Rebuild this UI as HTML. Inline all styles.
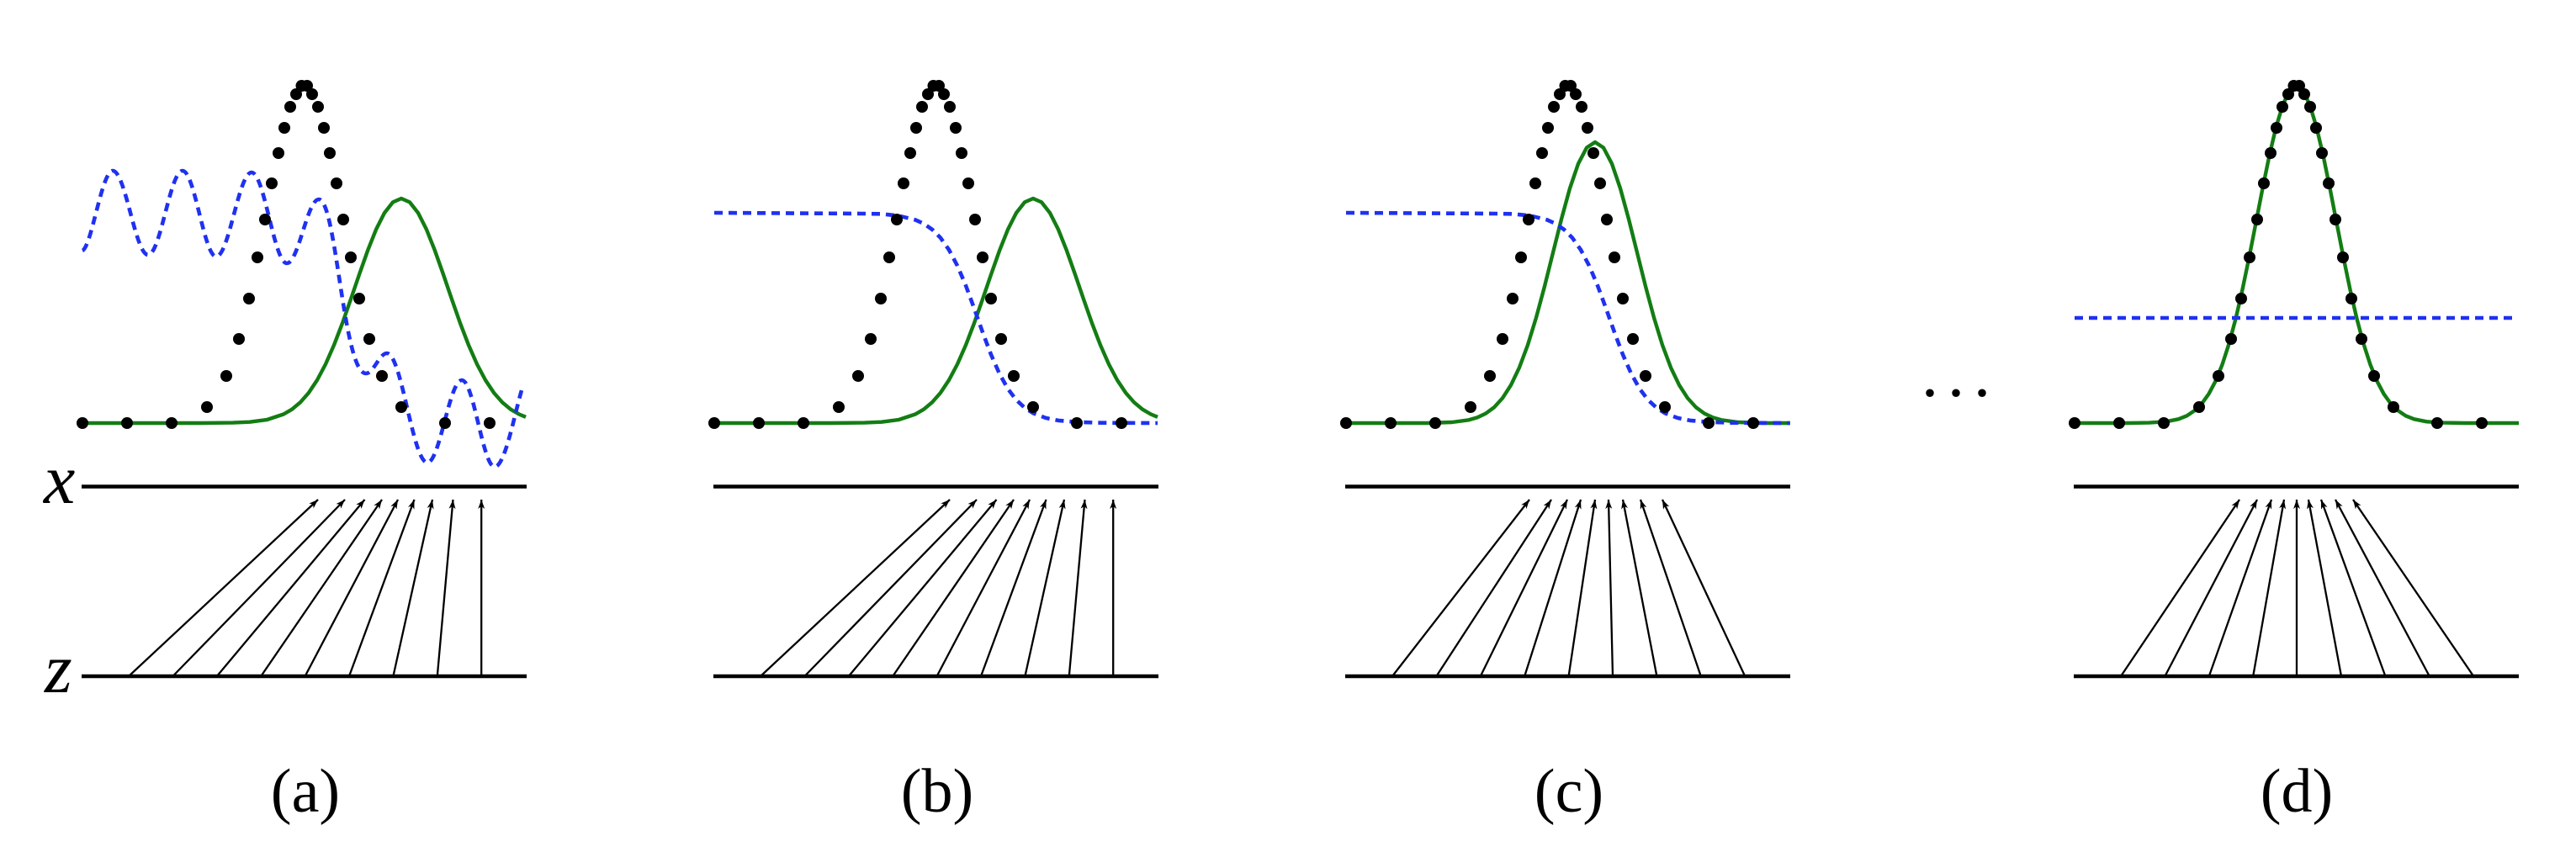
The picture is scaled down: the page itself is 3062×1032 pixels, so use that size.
<!DOCTYPE html>
<html>
<head>
<meta charset="utf-8">
<style>
  html, body { margin: 0; padding: 0; background: #ffffff; }
  svg { display: block; }
  text { font-family: "Liberation Serif", "DejaVu Serif", serif; fill: #000; }
</style>
</head>
<body>
<svg width="3062" height="1032" viewBox="0 0 3062 1032" xmlns="http://www.w3.org/2000/svg">
  <rect x="0" y="0" width="3062" height="1032" fill="#ffffff"/>
  <defs>
    <marker id="ah" markerUnits="userSpaceOnUse" viewBox="0 0 11 8" refX="11" refY="4" markerWidth="11" markerHeight="8" orient="auto">
      <path d="M0,0 L11,4 L0,8 L3,4 z" fill="#000"/>
    </marker>

    <g id="axes">
      <line x1="0" y1="578.5" x2="529" y2="578.5" stroke="#000" stroke-width="4.6"/>
      <line x1="0" y1="804" x2="529" y2="804" stroke="#000" stroke-width="4.6"/>
    </g>

    <g id="dots" fill="#000">
      <circle cx="1" cy="503" r="7"/>
      <circle cx="54" cy="503" r="7"/>
      <circle cx="107" cy="503" r="7"/>
      <circle cx="149" cy="484" r="7"/>
      <circle cx="172" cy="447" r="7"/>
      <circle cx="187" cy="403" r="7"/>
      <circle cx="199" cy="355" r="7"/>
      <circle cx="209" cy="306" r="7"/>
      <circle cx="218" cy="261" r="7"/>
      <circle cx="226" cy="218" r="7"/>
      <circle cx="234" cy="182" r="7"/>
      <circle cx="241" cy="152" r="7"/>
      <circle cx="248" cy="127" r="7"/>
      <circle cx="255" cy="112" r="7"/>
      <circle cx="261.5" cy="102" r="7"/>
      <circle cx="268" cy="102" r="7"/>
      <circle cx="274" cy="112" r="7"/>
      <circle cx="281" cy="127" r="7"/>
      <circle cx="288" cy="152" r="7"/>
      <circle cx="295" cy="182" r="7"/>
      <circle cx="303" cy="218" r="7"/>
      <circle cx="311" cy="261" r="7"/>
      <circle cx="320" cy="306" r="7"/>
      <circle cx="330" cy="355" r="7"/>
      <circle cx="342" cy="403" r="7"/>
      <circle cx="357" cy="447" r="7"/>
      <circle cx="380" cy="484" r="7"/>
      <circle cx="432" cy="503" r="7"/>
      <circle cx="485" cy="503" r="7"/>
    </g>

    <polyline id="gAB" fill="none" stroke="#137d13" stroke-width="4.4" stroke-linejoin="round"
      points="1,503 140,503 180,502.6 200,501.7 220,499.1 240,492.5 250,486.7 260,478.3 270,466.9 280,451.9 290,433 300,410.3 310,384.2 320,355.7 330,326.4 340,298.1 350,272.9 360,253.1 370,240.4 380,236 390,240.4 400,253.1 410,272.9 420,298.1 430,326.4 440,355.7 450,384.2 460,410.3 470,433 480,451.9 490,466.9 500,478.3 510,486.7 520,492.5 528,495.8"/>

    <polyline id="gC" fill="none" stroke="#137d13" stroke-width="4.4" stroke-linejoin="round"
      points="1,503 97,503 127,502 147,499.3 157,496.4 167,491.6 177,484.3 187,473.3 197,457.8 207,436.9 217,410.1 227,377.6 237,340.4 247,300.4 257,260.5 267,224 277,194.7 287,175.6 297,169 307,175.6 317,194.7 327,224 337,260.5 347,300.4 357,340.4 367,377.6 377,410.1 387,436.9 397,457.8 407,473.3 417,484.3 427,491.6 437,496.4 447,499.3 467,502 497,503 529,503"/>

    <polyline id="gD" fill="none" stroke="#137d13" stroke-width="4.4" stroke-linejoin="round"
      points="1,503 64.5,503 89.5,502.6 109.5,501.3 124.5,498.3 134.5,494.3 144.5,487.6 152.5,479.5 160.5,468.3 168.5,453.2 176.5,433.5 184.5,408.8 192.5,379 200.5,344.3 208.5,305.8 216.5,265 224.5,223.8 232.5,185 240.5,151 248.5,124.6 256.5,107.8 264.5,102 272.5,107.8 280.5,124.6 288.5,151 296.5,185 304.5,223.8 312.5,265 320.5,305.8 328.5,344.3 336.5,379 344.5,408.8 352.5,433.5 360.5,453.2 368.5,468.3 376.5,479.5 384.5,487.6 394.5,494.3 404.5,498.3 419.5,501.3 439.5,502.6 464.5,503 529,503"/>

    <polyline id="sig" fill="none" stroke="#1f31f0" stroke-width="4.6" stroke-dasharray="10 7" stroke-linejoin="round"
      points="1,253 180,254 200,254.4 220,256.5 240,261.4 250,265.9 260,272.8 270,282.8 280,297 290,315.9 300,339.5 310,366.7 320,395 330,421.6 340,444.3 350,462.3 360,475.5 370,484.8 380,491.2 395,496.9 410,499.9 430,501.7 460,502.7 528,503"/>

    <g id="arrAB" stroke="#000" stroke-width="2.3" marker-end="url(#ah)">
      <line x1="56" y1="804" x2="281" y2="594"/>
      <line x1="108.4" y1="804" x2="313" y2="594"/>
      <line x1="160.8" y1="804" x2="336.5" y2="594"/>
      <line x1="213.2" y1="804" x2="357" y2="594"/>
      <line x1="265.6" y1="804" x2="376" y2="594"/>
      <line x1="318" y1="804" x2="395.5" y2="594"/>
      <line x1="370.4" y1="804" x2="417" y2="594"/>
      <line x1="422.8" y1="804" x2="441.5" y2="594"/>
      <line x1="475.2" y1="804" x2="475.2" y2="594"/>
    </g>
  </defs>

  <!-- Panel (a) -->
  <g transform="translate(97,0)">
    <use href="#axes"/>
    <use href="#gAB"/>
    <path fill="none" stroke="#1f31f0" stroke-width="4.6" stroke-dasharray="10 7" stroke-linejoin="round"
      d="M1,298 C12,293 24,203 37,203 C52.2,203 63.8,303 79,303 C93.9,303 105.1,203 120,203 C134.5,203 145.5,305 160,305 C175.2,305 186.8,205 202,205 C217.2,205 228.8,313 244,313 C257.8,313 268.2,237 282,237 C303,237 311,444 338,444 C347,444 354,420 363,420 C380.4,420 393.6,550 411,550 C425.9,550 437.1,452 452,452 C466.2,452 476.8,555 491,555 C503,555 514,495 523,464"/>
    <use href="#dots"/>
    <use href="#arrAB"/>
  </g>

  <!-- Panel (b) -->
  <g transform="translate(848,0)">
    <use href="#axes"/>
    <use href="#gAB"/>
    <use href="#sig"/>
    <use href="#dots"/>
    <use href="#arrAB"/>
  </g>

  <!-- Panel (c) -->
  <g transform="translate(1599,0)">
    <use href="#axes"/>
    <use href="#gC"/>
    <use href="#sig"/>
    <use href="#dots"/>
    <g stroke="#000" stroke-width="2.3" marker-end="url(#ah)">
      <line x1="56" y1="804" x2="219" y2="594"/>
      <line x1="108.4" y1="804" x2="245" y2="594"/>
      <line x1="160.8" y1="804" x2="264" y2="594"/>
      <line x1="213.2" y1="804" x2="280" y2="594"/>
      <line x1="265.6" y1="804" x2="297" y2="594"/>
      <line x1="318" y1="804" x2="313" y2="594"/>
      <line x1="370.4" y1="804" x2="330" y2="594"/>
      <line x1="422.8" y1="804" x2="351" y2="594"/>
      <line x1="475.2" y1="804" x2="377" y2="594"/>
    </g>
  </g>

  <!-- Panel (d) -->
  <g transform="translate(2465,0)">
    <use href="#axes"/>
    <use href="#gD"/>
    <line x1="1" y1="378" x2="527" y2="378" stroke="#1f31f0" stroke-width="4.6" stroke-dasharray="10 7"/>
    <use href="#dots"/>
    <g stroke="#000" stroke-width="2.3" marker-end="url(#ah)">
      <line x1="56" y1="804" x2="197" y2="594"/>
      <line x1="108.4" y1="804" x2="218" y2="594"/>
      <line x1="160.8" y1="804" x2="235" y2="594"/>
      <line x1="213.2" y1="804" x2="250" y2="594"/>
      <line x1="265" y1="804" x2="265" y2="594"/>
      <line x1="318" y1="804" x2="279" y2="594"/>
      <line x1="370.4" y1="804" x2="294" y2="594"/>
      <line x1="422.8" y1="804" x2="311" y2="594"/>
      <line x1="475.2" y1="804" x2="332" y2="594"/>
    </g>
  </g>

  <!-- ellipsis -->
  <text font-family="Liberation Serif, serif" x="2294" y="471" font-size="80" text-anchor="middle">.</text>
  <text font-family="Liberation Serif, serif" x="2325" y="471" font-size="80" text-anchor="middle">.</text>
  <text font-family="Liberation Serif, serif" x="2356" y="471" font-size="80" text-anchor="middle">.</text>

  <!-- axis labels -->
  <text font-family="Liberation Serif, serif" x="52" y="598" font-size="84" font-style="italic">x</text>
  <text font-family="Liberation Serif, serif" x="53" y="823" font-size="84" font-style="italic">z</text>

  <!-- panel labels -->
  <text font-family="Liberation Serif, serif" x="363" y="965" font-size="74" text-anchor="middle">(a)</text>
  <text font-family="Liberation Serif, serif" x="1114" y="965" font-size="74" text-anchor="middle">(b)</text>
  <text font-family="Liberation Serif, serif" x="1865" y="965" font-size="74" text-anchor="middle">(c)</text>
  <text font-family="Liberation Serif, serif" x="2730" y="965" font-size="74" text-anchor="middle">(d)</text>
</svg>
</body>
</html>
